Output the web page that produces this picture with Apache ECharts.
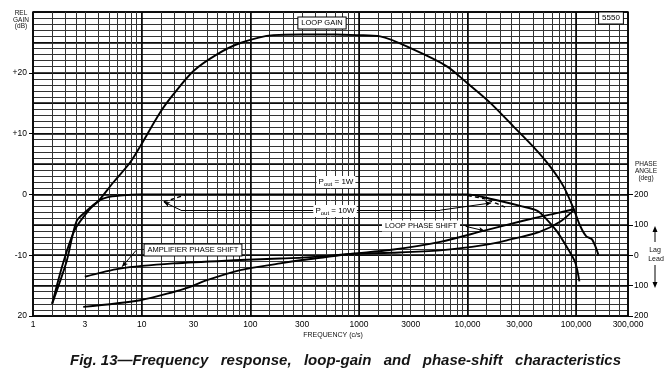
<!DOCTYPE html>
<html><head><meta charset="utf-8">
<script src="https://cdn.jsdelivr.net/npm/echarts@6/dist/echarts.min.js"></script>
<style>html,body{margin:0;padding:0;background:#fff}#c{width:671px;height:377px}</style>
</head><body><div id="c"></div>
<script>
// ---------- data ----------
const xTickLabels = [1, 3, 10, 30, 100, 300, 1000, 3000, 10000, 30000, 100000, 300000];
const gainTicks = [-20, -10, 0, 10, 20];
const gainTickText = ['20', '-10', '0', '+10', '+20'];
const phaseTicks = [-200, -100, 0, 100, 200];
const phaseTickText = ['200', '100', '0', '100', '200'];
const gridMultipliers = [1, 1.5, 2, 2.5, 3, 4, 5, 6, 7, 8, 9];
const gridDecades = [1, 10, 100, 1000, 10000, 100000];

const loopGainFreq = [1.5, 1.9, 2.43, 3.3, 4.0, 5.5, 7.8, 9.7, 14.7, 19.5, 30, 49, 81, 163, 300, 600, 960, 1570, 3200, 6400, 9800, 16100, 26400, 40000, 57000, 76000, 94000, 109000, 124000, 140000, 160000];
const loopGainDb   = [-18, -11.2, -5.8, -2.5, -1.1, 2.0, 5.2, 7.9, 13.4, 16.4, 20.3, 23.0, 24.9, 26.2, 26.3, 26.3, 26.2, 26.0, 23.8, 21.1, 18.4, 15.1, 11.2, 7.9, 4.7, 1.4, -2.2, -5.2, -6.9, -7.4, -9.9];

const resp1WFreq = [1.5, 2.04, 2.52, 3.12, 4.0, 4.8, 6.3, 9.7, 100, 1000, 9800, 17000, 30500, 44000, 53500, 66000, 81000, 98000, 107000];
const resp1WDb   = [-18, -11, -4.4, -2.7, -1.1, -0.5, -0.2, 0, 0, 0, 0, -0.8, -1.9, -2.7, -4.1, -6.0, -8.5, -11.2, -14.3];

const resp10WLowFreq = [16, 19, 26];
const resp10WLowDb   = [-1.2, -0.8, 0];
const resp10WHighFreq = [10100, 14100, 16300, 23000];
const resp10WHighDb   = [-0.2, -0.7, -1.1, -2.2];

const ampPhaseFreq = [3, 6.3, 19.5, 81, 188, 300, 500, 830, 2000, 5600, 14000, 23000, 46000, 71000, 96000];
const ampPhaseDeg  = [-71, -44, -27, -16, -11, -8, -3, 4, 8, 16, 33, 49, 77, 110, 150];

const loopPhaseFreq = [2.9, 9.7, 19.6, 28, 40, 81, 188, 300, 500, 830, 2000, 5600, 14000, 23000, 46000, 70000, 96000];
const loopPhaseDeg  = [-170, -148, -121, -104, -82, -49, -27, -16, -6, 4, 18, 44, 80, 100, 126, 140, 152];

// ---------- helpers ----------
const zip = (a, b) => a.map((v, i) => [v, b[i]]);
const minorGrid = [];
gridDecades.forEach(d => gridMultipliers.forEach(m => minorGrid.push(+(d * m).toPrecision(6))));
minorGrid.push(300000);

const FONT = '"Liberation Sans", Arial, sans-serif';
const lineS = (w) => ({ color: '#000', width: w || 1.8 });

function fmtFreq(v) {
  v = Math.round(v);
  return v >= 10000 ? v.toLocaleString('en-US') : String(v);
}

// caption justification
const capWords = ['Fig. 13\u2014Frequency', 'response,', 'loop-gain', 'and', 'phase-shift', 'characteristics'];
const capFont = 'italic bold 15px "Liberation Sans"';
const cctx = document.createElement('canvas').getContext('2d');
cctx.font = capFont;
const capW = capWords.map(w => cctx.measureText(w).width);
const capL = 70, capR = 621;
const gap = (capR - capL - capW.reduce((a, b) => a + b, 0)) / (capWords.length - 1);
const graphics = [];
let cx = capL;
capWords.forEach((w, i) => {
  graphics.push({ type: 'text', x: cx, y: 361, style: { text: w, font: capFont, fill: '#151515', textVerticalAlign: 'middle' } });
  cx += capW[i] + gap;
});

const boxText = (text, x, y, size, border) => ({
  type: 'text', x: x, y: y, z: 50,
  style: {
    text: text, fontFamily: FONT, fontSize: size, fill: '#000',
    textAlign: 'center', textVerticalAlign: 'middle',
    backgroundColor: '#fff', borderColor: border ? '#000' : null, borderWidth: border ? 1 : 0,
    padding: [2, 3, 1, 3]
  }
});

graphics.push(
  boxText('LOOP GAIN', 322, 23, 7.5, true),
  boxText('5550', 611, 18, 8, true),
  boxText('AMPLIFIER PHASE SHIFT', 193, 250, 7.5, true),
  boxText('LOOP PHASE SHIFT', 421, 226, 7.5, false),
  { type: 'text', x: 21, y: 20, style: { text: 'REL\nGAIN\n(dB)', fontFamily: FONT, fontSize: 6.5, lineHeight: 6.3, fill: '#111', textAlign: 'center', textVerticalAlign: 'middle' } },
  { type: 'text', x: 646, y: 171, style: { text: 'PHASE\nANGLE\n(deg)', fontFamily: FONT, fontSize: 6.5, lineHeight: 7, fill: '#111', textAlign: 'center', textVerticalAlign: 'middle' } },
  { type: 'text', x: 333, y: 335, style: { text: 'FREQUENCY (c/s)', fontFamily: FONT, fontSize: 7, fill: '#111', textAlign: 'center', textVerticalAlign: 'middle' } },
  { type: 'text', x: 655, y: 250, style: { text: 'Lag', fontFamily: FONT, fontSize: 7, fill: '#111', textAlign: 'center', textVerticalAlign: 'middle' } },
  { type: 'text', x: 656, y: 259, style: { text: 'Lead', fontFamily: FONT, fontSize: 7, fill: '#111', textAlign: 'center', textVerticalAlign: 'middle' } },
  { type: 'line', shape: { x1: 655, y1: 242, x2: 655, y2: 229 }, style: { stroke: '#000', lineWidth: 1 } },
  { type: 'polygon', shape: { points: [[652.5, 232], [655, 226], [657.5, 232]] }, style: { fill: '#000' } },
  { type: 'line', shape: { x1: 655, y1: 265, x2: 655, y2: 285 }, style: { stroke: '#000', lineWidth: 1 } },
  { type: 'polygon', shape: { points: [[652.5, 282], [655, 288], [657.5, 282]] }, style: { fill: '#000' } },
  {
    type: 'text', x: 336, y: 182, z: 50,
    style: { text: '{p|P}{s|out}{p| = 1W}', backgroundColor: '#fff', padding: [1, 2],
      textAlign: 'center', textVerticalAlign: 'middle',
      rich: { p: { fontFamily: FONT, fontSize: 8, fill: '#000' }, s: { fontFamily: FONT, fontSize: 6, fill: '#000', padding: [4, 0, 0, 0] } } }
  },
  {
    type: 'text', x: 335, y: 211, z: 50,
    style: { text: '{p|P}{s|out}{p| = 10W}', backgroundColor: '#fff', padding: [1, 2],
      textAlign: 'center', textVerticalAlign: 'middle',
      rich: { p: { fontFamily: FONT, fontSize: 8, fill: '#000' }, s: { fontFamily: FONT, fontSize: 6, fill: '#000', padding: [4, 0, 0, 0] } } }
  }
);

const hiddenAx = { axisLine: { show: false }, axisTick: { show: false }, axisLabel: { show: false } };
const arrowML = (data) => ({
  silent: true, animation: false, symbol: ['none', 'arrow'], symbolSize: [4, 6],
  label: { show: false }, lineStyle: { color: '#000', width: 1, type: 'solid' }, data: data
});

const option = {
  animation: false,
  backgroundColor: '#fff',
  grid: { left: 33, top: 12, width: 595, height: 304, show: true, borderColor: '#000', borderWidth: 1.5, backgroundColor: 'transparent' },
  xAxis: [
    { type: 'log', logBase: 10, min: 1, max: 300000, position: 'bottom',
      axisLine: { show: false }, axisTick: { show: false }, splitLine: { show: false },
      axisLabel: { customValues: xTickLabels, formatter: fmtFreq, margin: 4, fontFamily: FONT, fontSize: 8.5, color: '#000', showMinLabel: true, showMaxLabel: true } },
    Object.assign({ type: 'log', logBase: 10, min: 1, max: 300000 }, hiddenAx, {
      axisTick: { show: true, length: 0, customValues: minorGrid },
      splitLine: { show: true, lineStyle: { color: '#333', width: 1 } } }),
    Object.assign({ type: 'log', logBase: 10, min: 1, max: 300000 }, hiddenAx, {
      splitLine: { show: true, lineStyle: { color: '#000', width: 1.5 } } })
  ],
  yAxis: [
    { type: 'value', min: -20, max: 30, position: 'left',
      axisLine: { show: false }, splitLine: { show: false },
      axisTick: { show: true, length: 4, customValues: gainTicks, lineStyle: { color: '#000' } },
      axisLabel: { customValues: gainTicks, margin: 6, fontFamily: FONT, fontSize: 8.5, color: '#000',
        formatter: v => gainTickText[gainTicks.indexOf(Math.round(v))] } },
    { type: 'value', min: -200, max: 800, position: 'right',
      axisLine: { show: false }, splitLine: { show: false },
      axisTick: { show: true, length: 5, customValues: phaseTicks, lineStyle: { color: '#000' } },
      axisLabel: { customValues: phaseTicks, margin: 6, fontFamily: FONT, fontSize: 8.5, color: '#000',
        formatter: v => phaseTickText[phaseTicks.indexOf(Math.round(v))] } },
    Object.assign({ type: 'value', min: -20, max: 30, interval: 1, position: 'left' }, hiddenAx, {
      splitLine: { show: true, lineStyle: { color: '#333', width: 1 } } }),
    Object.assign({ type: 'value', min: -20, max: 30, interval: 5, position: 'left' }, hiddenAx, {
      splitLine: { show: true, lineStyle: { color: '#000', width: 1.5 } } })
  ],
  graphic: graphics,
  series: [
    { name: 'Loop gain', type: 'line', xAxisIndex: 0, yAxisIndex: 0, data: zip(loopGainFreq, loopGainDb),
      smooth: 0.3, symbol: 'none', lineStyle: lineS(1.9), z: 10 },
    { name: 'Pout=1W', type: 'line', xAxisIndex: 0, yAxisIndex: 0, data: zip(resp1WFreq, resp1WDb),
      smooth: 0.3, symbol: 'none', lineStyle: lineS(1.9), z: 10,
      markLine: arrowML([
        [{ coord: [380, -2.6] }, { coord: [23, -2.6], symbol: 'none' }],
        [{ coord: [23, -2.6], lineStyle: { curveness: -0.3 } }, { coord: [16, -1.25] }],
        [{ coord: [960, -2.6] }, { coord: [5600, -2.6], symbol: 'none' }],
        [{ coord: [5600, -2.6], lineStyle: { curveness: 0.3 } }, { coord: [16500, -1.4] }]
      ]) },
    { name: 'Pout=10W low', type: 'line', xAxisIndex: 0, yAxisIndex: 0, data: zip(resp10WLowFreq, resp10WLowDb),
      smooth: 0.3, symbol: 'none', lineStyle: { color: '#000', width: 1.4, type: [4, 3] }, z: 10 },
    { name: 'Pout=10W high', type: 'line', xAxisIndex: 0, yAxisIndex: 0, data: zip(resp10WHighFreq, resp10WHighDb),
      smooth: 0.3, symbol: 'none', lineStyle: { color: '#000', width: 1.4, type: [4, 3] }, z: 10 },
    { name: 'Amplifier phase shift', type: 'line', xAxisIndex: 0, yAxisIndex: 1, data: zip(ampPhaseFreq, ampPhaseDeg),
      smooth: 0.3, symbol: 'none', lineStyle: lineS(1.9), z: 10,
      markLine: arrowML([[{ coord: [8.9, 16] }, { coord: [6.6, -38] }]]) },
    { name: 'Loop phase shift', type: 'line', xAxisIndex: 0, yAxisIndex: 1, data: zip(loopPhaseFreq, loopPhaseDeg),
      smooth: 0.3, symbol: 'none', lineStyle: lineS(1.9), z: 10,
      markLine: arrowML([[{ coord: [9600, 95] }, { coord: [14400, 80] }]]) }
  ]
};

const chart = echarts.init(document.getElementById('c'), null, { renderer: 'canvas' });
chart.setOption(option);
</script>
</body></html>
